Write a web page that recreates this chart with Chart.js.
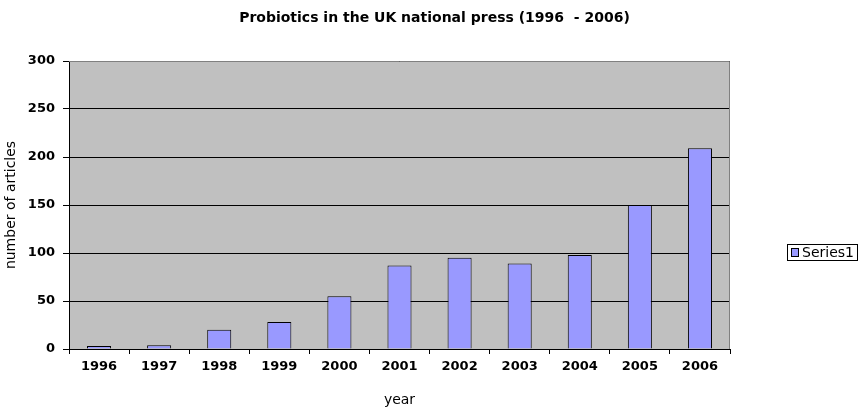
<!DOCTYPE html>
<html>
<head>
<meta charset="utf-8">
<script src="https://cdn.jsdelivr.net/npm/chart.js@4/dist/chart.umd.min.js"></script>
<style>
  html, body { margin: 0; padding: 0; background: #fff; }
  canvas { display: block; }
</style>
</head>
<body>
<canvas id="chart" width="859" height="414"></canvas>
<script>
// Yearly count of press articles on probiotics
const years = ['1996', '1997', '1998', '1999', '2000', '2001', '2002', '2003', '2004', '2005', '2006'];
const articles = [3, 4, 20, 28, 55, 87, 95, 89, 98, 150, 209];
const seriesName = 'Series1';
const yMin = 0;
const yMax = 300;
const yStep = 50;

const chartTitle = 'Probiotics in the UK national press (1996  - 2006)';
const xTitle = 'year';
const yTitle = 'number of articles';

const BAR_FILL = '#9999FF';
const PLOT_FILL = '#C0C0C0';
const TICK_FONT = { family: 'DejaVu Sans', size: 13, weight: 'bold' };
const LABEL_FONT = { family: 'DejaVu Sans', size: 14, lineHeight: 1.2 };

// Chart heading, centred across the whole canvas (plot plus legend column)
const pageTitle = {
  id: 'pageTitle',
  afterDraw(chart) {
    const { ctx, width } = chart;
    ctx.save();
    ctx.fillStyle = '#000';
    ctx.font = 'bold 14px "DejaVu Sans"';
    ctx.textAlign = 'center';
    ctx.textBaseline = 'middle';
    ctx.fillText(chartTitle, width / 2 + 5, 18);
    ctx.restore();
  }
};

// Grey plot area behind the bars, with a grey frame on top and right
const plotArea = {
  id: 'plotArea',
  beforeDraw(chart) {
    const { ctx, chartArea: a } = chart;
    ctx.save();
    ctx.fillStyle = PLOT_FILL;
    ctx.fillRect(a.left, a.top, a.right - a.left, a.bottom - a.top);
    ctx.restore();
  },
  beforeDatasetsDraw(chart) {
    const { ctx, chartArea: a } = chart;
    const l = Math.round(a.left), r = Math.round(a.right), t = Math.round(a.top), b = Math.round(a.bottom);
    ctx.save();
    ctx.strokeStyle = '#808080';
    ctx.lineWidth = 1;
    ctx.beginPath();
    ctx.moveTo(l, t + 0.5);
    ctx.lineTo(r - 0.5, t + 0.5);
    ctx.lineTo(r - 0.5, b);
    ctx.stroke();
    ctx.restore();
  }
};

// Boxed legend at the right side
const boxLegend = {
  id: 'boxLegend',
  afterDraw(chart) {
    const { ctx } = chart;
    const ds = chart.data.datasets[0];
    const x = 787, y = 244, w = 71, h = 17;
    ctx.save();
    ctx.fillStyle = '#fff';
    ctx.fillRect(x, y, w, h);
    ctx.strokeStyle = '#000';
    ctx.lineWidth = 1;
    ctx.strokeRect(x + 0.5, y + 0.5, w - 1, h - 1);
    ctx.fillStyle = ds.backgroundColor;
    ctx.fillRect(x + 4, y + 4, 8, 9);
    ctx.strokeRect(x + 4.5, y + 4.5, 7, 8);
    ctx.fillStyle = '#000';
    ctx.font = '14px "DejaVu Sans"';
    ctx.textBaseline = 'middle';
    ctx.textAlign = 'left';
    ctx.fillText(ds.label, x + 15, y + h / 2 + 0.5);
    ctx.restore();
  }
};

new Chart(document.getElementById('chart'), {
  type: 'bar',
  data: {
    labels: years,
    datasets: [{
      label: seriesName,
      data: articles,
      backgroundColor: BAR_FILL,
      borderColor: '#000',
      borderWidth: 1,
      borderSkipped: 'start',
      barPercentage: 0.4,
      categoryPercentage: 1.0
    }]
  },
  options: {
    responsive: false,
    animation: false,
    devicePixelRatio: 1,
    layout: { padding: { top: 61, right: 129, bottom: 0, left: 0 } },
    plugins: {
      legend: { display: false },
      tooltip: { enabled: false },
      title: { display: false }
    },
    scales: {
      x: {
        offset: true,
        grid: { display: true, drawOnChartArea: false, drawTicks: true, tickLength: 5, color: '#000', offset: true },
        border: { display: true, color: '#000', width: 1 },
        ticks: { color: '#000', font: TICK_FONT, padding: 5, maxRotation: 0, autoSkip: false },
        title: {
          display: true, text: xTitle, color: '#000',
          font: LABEL_FONT,
          padding: { top: 10, bottom: 5 }
        },
        afterFit(scale) { scale.height = 65; }
      },
      y: {
        min: yMin,
        max: yMax,
        grid: { color: '#000', lineWidth: 1, drawTicks: true, tickLength: 6 },
        border: { display: true, color: '#000', width: 1 },
        ticks: { stepSize: yStep, color: '#000', font: TICK_FONT, padding: 8 },
        title: {
          display: true, text: yTitle, color: '#000',
          font: LABEL_FONT,
          padding: { top: 3, bottom: 4 }
        },
        afterFit(scale) { scale.width = 69; }
      }
    }
  },
  plugins: [plotArea, boxLegend, pageTitle]
});
</script>
</body>
</html>
